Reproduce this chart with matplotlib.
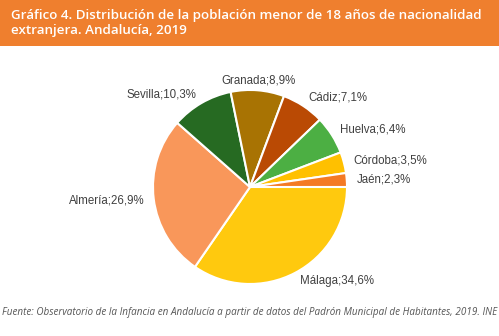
import numpy as np
import matplotlib.pyplot as plt
from matplotlib.patches import Rectangle

# data, clockwise from 3 o'clock
provincias = ["Málaga", "Almería", "Sevilla", "Granada", "Cádiz", "Huelva", "Córdoba", "Jaén"]
porcentajes = [34.6, 26.9, 10.3, 8.9, 7.1, 6.4, 3.5, 2.3]
colores = ["#FFC90E", "#F9975A", "#266A22", "#A87303", "#BA4A04", "#4CAF43", "#FFC000", "#F47A24"]

titulo = "Gráfico 4. Distribución de la población menor de 18 años de nacionalidad\nextranjera. Andalucía, 2019"
fuente = ("Fuente: Observatorio de la Infancia en Andalucía a partir de datos del "
          "Padrón Municipal de Habitantes, 2019. INE")

etiquetas = [f"{p};{str(v).replace('.', ',')}%" for p, v in zip(provincias, porcentajes)]

fig = plt.figure(figsize=(4.99, 3.36), dpi=100)

# orange header band
fig.patches.append(Rectangle((0, 1 - 46/336), 1, 46/336, transform=fig.transFigure,
                             facecolor="#EF7F2E", edgecolor="none", zorder=0))
fig.text(11/499, 1 - 23/336, titulo, color="white", fontsize=9.6, family="Open Sans",
         weight="semibold", va="center", ha="left", linespacing=1.2)

ax = fig.add_axes([0.3066, 0.1548, 0.3888, 0.5774])
wedges, texts = ax.pie(porcentajes, labels=etiquetas, colors=colores, startangle=0,
                       counterclock=False, labeldistance=1.1,
                       wedgeprops=dict(edgecolor="white", linewidth=1.5),
                       textprops=dict(fontsize=8.3, color="#404040", family="Liberation Sans"))
texts[3].set_ha("center")
ax.set_xlim(-1, 1)
ax.set_ylim(-1, 1)
ax.set_aspect("equal")

fig.text(0.5, 1 - 312/336, fuente, color="#555555", fontsize=7.1, family="Open Sans",
         style="italic", ha="center", va="center")

fig.savefig("out.png", dpi=100)
